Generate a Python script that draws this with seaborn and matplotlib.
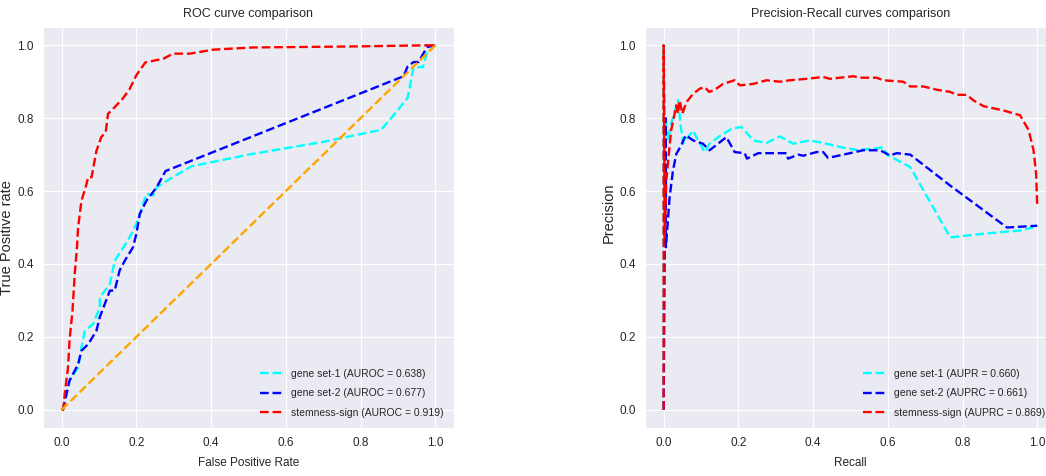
import numpy as np
import matplotlib
matplotlib.use("Agg")
import matplotlib.pyplot as plt
import seaborn as sns

# ROC points
fpr_set1 = [0.0, 0.004, 0.013, 0.021, 0.044, 0.053, 0.062, 0.084, 0.102, 0.102, 0.129, 0.142, 0.16, 0.182,
            0.2, 0.209, 0.227, 0.245, 0.254, 0.30, 0.348, 0.5, 0.7, 0.855, 0.89, 0.926, 0.942, 0.967, 0.978, 1.0]
tpr_set1 = [0.0, 0.006, 0.052, 0.08, 0.116, 0.171, 0.217, 0.235, 0.281, 0.308, 0.345, 0.409, 0.437, 0.473,
            0.51, 0.537, 0.593, 0.588, 0.61, 0.64, 0.668, 0.7, 0.735, 0.768, 0.81, 0.856, 0.94, 0.94, 0.98, 1.0]

fpr_set2 = [0.0, 0.004, 0.013, 0.021, 0.044, 0.053, 0.071, 0.093, 0.102, 0.129, 0.142, 0.155, 0.169, 0.191,
            0.2, 0.209, 0.227, 0.254, 0.278, 0.915, 0.926, 0.942, 0.955, 0.978, 1.0]
tpr_set2 = [0.0, 0.003, 0.043, 0.08, 0.125, 0.162, 0.18, 0.217, 0.254, 0.327, 0.327, 0.382, 0.409, 0.446,
            0.483, 0.537, 0.574, 0.61, 0.655, 0.915, 0.942, 0.954, 0.954, 0.995, 1.0]

fpr_stem = [0.0, 0.004, 0.008, 0.017, 0.021, 0.029, 0.035, 0.041, 0.044, 0.053, 0.064, 0.071, 0.08, 0.093,
            0.106, 0.118, 0.124, 0.138, 0.163, 0.182, 0.2, 0.224, 0.272, 0.298, 0.343, 0.406, 0.513, 0.8, 0.987, 1.0]
tpr_stem = [0.0, 0.0, 0.043, 0.116, 0.19, 0.272, 0.373, 0.446, 0.5, 0.574, 0.61, 0.638, 0.638, 0.71,
            0.748, 0.762, 0.812, 0.826, 0.853, 0.88, 0.918, 0.953, 0.963, 0.977, 0.977, 0.988, 0.994, 0.997, 1.0, 1.0]

chance = [0.0, 1.0]

# Precision-recall points
rec_set1 = [0.0, 0.0, 0.003, 0.012, 0.02, 0.038, 0.045, 0.052, 0.065, 0.079, 0.092, 0.11, 0.123, 0.146,
            0.182, 0.208, 0.24, 0.275, 0.311, 0.347, 0.391, 0.427, 0.481, 0.516, 0.561, 0.588, 0.597, 0.66,
            0.767, 0.856, 0.954, 1.0]
prec_set1 = [0.0, 1.0, 0.81, 0.739, 0.785, 0.849, 0.785, 0.73, 0.748, 0.766, 0.739, 0.707, 0.73, 0.748,
             0.771, 0.776, 0.739, 0.732, 0.75, 0.73, 0.739, 0.732, 0.719, 0.713, 0.716, 0.72, 0.7, 0.666,
             0.473, 0.483, 0.492, 0.503]

rec_set2 = [0.0, 0.005, 0.006, 0.016, 0.025, 0.034, 0.047, 0.059, 0.079, 0.105, 0.123, 0.168, 0.19, 0.217,
            0.223, 0.253, 0.329, 0.333, 0.36, 0.374, 0.409, 0.427, 0.44, 0.49, 0.534, 0.579, 0.606, 0.624,
            0.66, 0.767, 0.919, 1.0]
prec_set2 = [0.0, 0.8, 0.446, 0.583, 0.657, 0.702, 0.725, 0.753, 0.739, 0.73, 0.712, 0.748, 0.707, 0.704,
             0.689, 0.704, 0.704, 0.689, 0.7, 0.697, 0.707, 0.707, 0.691, 0.702, 0.712, 0.712, 0.698, 0.704,
             0.7, 0.615, 0.5, 0.505]

rec_stem = [0.0, 0.0, 0.003, 0.007, 0.02, 0.034, 0.038, 0.043, 0.05, 0.061, 0.079, 0.097, 0.11, 0.122,
            0.137, 0.159, 0.19, 0.204, 0.24, 0.275, 0.311, 0.338, 0.383, 0.427, 0.445, 0.508, 0.525, 0.57,
            0.588, 0.641, 0.66, 0.695, 0.731, 0.767, 0.785, 0.811, 0.829, 0.856, 0.91, 0.954, 0.977, 0.99,
            0.997, 1.0]
prec_stem = [0.0, 1.0, 0.473, 0.629, 0.766, 0.835, 0.812, 0.849, 0.812, 0.844, 0.867, 0.881, 0.885, 0.872,
             0.878, 0.894, 0.904, 0.89, 0.894, 0.904, 0.9, 0.904, 0.908, 0.913, 0.908, 0.915, 0.911, 0.911,
             0.904, 0.9, 0.887, 0.887, 0.878, 0.872, 0.864, 0.864, 0.849, 0.833, 0.821, 0.808, 0.767, 0.712,
             0.648, 0.556]

roc_labels = ["gene set-1 (AUROC = 0.638)", "gene set-2 (AUROC = 0.677)", "stemness-sign (AUROC = 0.919)"]
pr_labels = ["gene set-1 (AUPR = 0.660)", "gene set-2 (AUPRC = 0.661)", "stemness-sign (AUPRC = 0.869)"]
colors = ["cyan", "blue", "red"]
ticks = [0.0, 0.2, 0.4, 0.6, 0.8, 1.0]

sns.set_style("darkgrid")
plt.rcParams["font.family"] = ["Liberation Sans", "DejaVu Sans"]
plt.rcParams["text.color"] = ".15"
plt.rcParams["axes.labelcolor"] = ".15"

fig = plt.figure(figsize=(10.46, 4.76), dpi=100)
ax1 = fig.add_axes([0.0411, 0.1008, 0.3929, 0.8424])
ax2 = fig.add_axes([0.6166, 0.1008, 0.3929, 0.8424])

lw = 1.7
roc_sets = [(fpr_set1, tpr_set1), (fpr_set2, tpr_set2), (fpr_stem, tpr_stem)]
for (fx, ty), lab, c in zip(roc_sets, roc_labels, colors):
    sns.lineplot(x=fx, y=ty, sort=False, estimator=None, color=c, linestyle="--",
                 linewidth=lw, label=lab, ax=ax1)
sns.lineplot(x=chance, y=chance, sort=False, estimator=None, color="orange", linestyle="--",
             linewidth=lw, ax=ax1)

pr_sets = [(rec_set1, prec_set1), (rec_set2, prec_set2), (rec_stem, prec_stem)]
for (rx, py), lab, c in zip(pr_sets, pr_labels, colors):
    sns.lineplot(x=rx, y=py, sort=False, estimator=None, color=c, linestyle="--",
                 linewidth=lw, label=lab, ax=ax2)

panels = [(ax1, "ROC curve comparison", "False Positive Rate", "True Positive rate", 0.474),
          (ax2, "Precision-Recall curves comparison", "Recall", "Precision", 0.536)]
for ax, title, xl, yl, ypos in panels:
    ax.set_xlim(-0.05, 1.05)
    ax.set_ylim(-0.05, 1.05)
    ax.set_xticks(ticks)
    ax.set_yticks(ticks)
    ax.tick_params(labelsize=8.5, pad=3)
    ax.set_title(title, fontsize=9, pad=7)
    ax.set_xlabel(xl, fontsize=8.5, labelpad=6)
    ax.set_ylabel(yl, fontsize=10.5)
    ax.yaxis.set_label_coords(-0.07, ypos)
    ax.legend(loc="lower right", fontsize=7.5, frameon=False, labelspacing=0.9,
              handlelength=2.2, handletextpad=0.8, borderaxespad=0.6)

fig.savefig("out.png", dpi=100)
